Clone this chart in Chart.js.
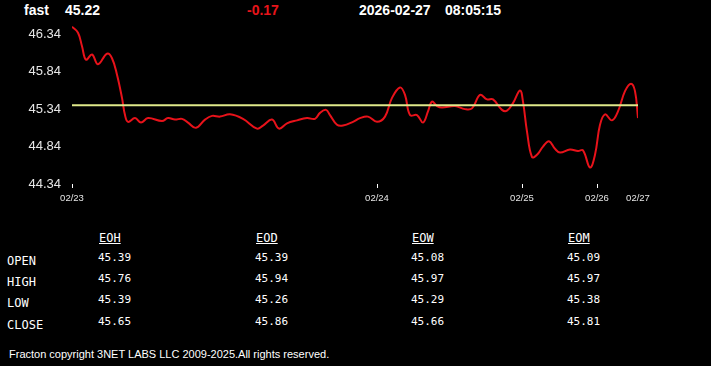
<!DOCTYPE html>
<html>
<head>
<meta charset="utf-8">
<script src="https://cdn.jsdelivr.net/npm/chart.js@4"></script>
<style>
  html, body { margin: 0; padding: 0; background: #000; }
  #wrap { position: relative; width: 711px; height: 366px; background: #000; overflow: hidden; color: #fff; }
  #chartBox { position: absolute; left: 0; top: 0; width: 711px; height: 215px; }
  .hd { position: absolute; top: 2px; font: bold 14px "Liberation Sans", Arial, sans-serif; white-space: pre; }
  .cell { position: absolute; font: 11px "DejaVu Sans Mono", "Liberation Mono", monospace; color: #fff; white-space: pre; line-height: 12px; }
  .lbl { font-size: 12px; }
  .colh { font-size: 12px; text-decoration: underline; }
  #foot { position: absolute; left: 9px; top: 348px; font: 11px "Liberation Sans", Arial, sans-serif; color: #fff; white-space: pre; }
</style>
</head>
<body>
<div id="wrap">
  <div class="hd" style="left:24px">fast</div>
  <div class="hd" style="left:65px">45.22</div>
  <div class="hd" style="left:247px;color:#e8141a">-0.17</div>
  <div class="hd" style="left:359px">2026-02-27</div>
  <div class="hd" style="left:445px">08:05:15</div>
  <div id="chartBox"><canvas id="priceChart"></canvas></div>
  <div id="table"></div>
  <div id="foot">Fracton copyright 3NET LABS LLC 2009-2025.All rights reserved.</div>
</div>
<script>
// sample position (bar index) and price
const xs = [0,6,10,14,20,26,35,40,45,50,53,56,63,69,76,90,96,103,110,116,124,133,140,148,158,171,185,191,200,207,
  215,225,235,243,248,254,258,265,271,281,288,296,305,313,320,328,333,338,345,351,356,360,365,370,383,393,400,408,415,421,
  430,435,441,448,451,455,460,465,471,477,483,488,498,506,511,518,523,528,533,540,546,553,559,563,566];
const prices = [46.44,46.36,46.18,46.00,46.07,45.94,46.08,46.02,45.80,45.49,45.26,45.17,45.22,45.16,45.22,45.18,45.22,45.20,45.21,45.16,
  45.09,45.20,45.25,45.24,45.27,45.21,45.08,45.12,45.20,45.08,45.15,45.19,45.22,45.21,45.29,45.33,45.26,45.13,45.12,45.17,
  45.22,45.24,45.17,45.24,45.49,45.63,45.53,45.26,45.26,45.16,45.31,45.44,45.38,45.36,45.38,45.34,45.35,45.53,45.47,45.47,
  45.33,45.32,45.42,45.59,45.44,45.04,44.70,44.73,44.84,44.91,44.81,44.76,44.80,44.78,44.79,44.56,44.73,45.13,45.27,45.19,
  45.31,45.58,45.68,45.58,45.22];
const openLevel = 45.39;

const dayTicks = [0, 305, 450, 525, 566];
const dayLabels = ["02/23", "02/24", "02/25", "02/26", "02/27"];
const priceTicks = [44.34, 44.84, 45.34, 45.84, 46.34];

const colNames = ["EOH", "EOD", "EOW", "EOM"];
const rowNames = ["OPEN", "HIGH", "LOW", "CLOSE"];
const eoh = [45.39, 45.76, 45.39, 45.65];
const eod = [45.39, 45.94, 45.26, 45.86];
const eow = [45.08, 45.97, 45.29, 45.66];
const eom = [45.09, 45.97, 45.38, 45.81];

// table
const table = document.getElementById("table");
const colX = [99, 256, 412, 568];
const rowY = [254, 275, 296, 318];
function addCell(txt, x, y, cls) {
  let d = document.createElement("div");
  d.className = "cell " + (cls || "");
  d.style.left = x + "px";
  d.style.top = y + "px";
  d.textContent = txt;
  table.appendChild(d);
}
colNames.forEach((c, i) => addCell(c, colX[i], 232, "colh"));
rowNames.forEach((r, i) => addCell(r, 7, rowY[i] + 1, "lbl"));
[eoh, eod, eow, eom].forEach((col, i) => {
  col.forEach((v, j) => addCell(v.toFixed(2), colX[i] - 1, rowY[j] - 2));
});

// chart
const pts = xs.map((x, i) => ({ x: x, y: prices[i] }));
const lastX = xs[xs.length - 1];

new Chart(document.getElementById("priceChart"), {
  type: "line",
  data: {
    datasets: [
      {
        data: [{ x: 0, y: openLevel }, { x: lastX, y: openLevel }],
        borderColor: "#dfe88a",
        borderWidth: 2,
        pointRadius: 0,
        tension: 0
      },
      {
        data: pts,
        borderColor: "#e8121a",
        borderWidth: 2,
        pointRadius: 0,
        tension: 0.4
      }
    ]
  },
  options: {
    responsive: true,
    maintainAspectRatio: false,
    animation: false,
    layout: { padding: { top: 26, right: 73, left: 0, bottom: 0 } },
    plugins: { legend: { display: false }, tooltip: { enabled: false } },
    scales: {
      x: {
        type: "linear",
        min: 0,
        max: lastX,
        afterBuildTicks: s => { s.ticks = dayTicks.map(v => ({ value: v })); },
        afterFit: s => { s.height = 31; },
        border: { display: false },
        grid: {
          drawOnChartArea: false,
          drawTicks: true,
          tickLength: 4,
          color: c => (c.tick && c.tick.value === lastX) ? "rgba(0,0,0,0)" : "#ffffff"
        },
        ticks: {
          padding: 5,
          maxRotation: 0,
          color: "#e6e6e6",
          font: { family: "Liberation Sans", size: 9.5 },
          callback: v => dayLabels[dayTicks.indexOf(v)]
        }
      },
      y: {
        min: 44.34,
        max: 46.45,
        afterBuildTicks: s => { s.ticks = priceTicks.map(v => ({ value: v })); },
        afterFit: s => { s.width = 72; },
        border: { display: false },
        grid: { display: false, drawTicks: false },
        ticks: {
          padding: 11,
          color: "#e6e6e6",
          font: { family: "Liberation Sans", size: 13 },
          callback: v => v.toFixed(2)
        }
      }
    }
  }
});
</script>
</body>
</html>
